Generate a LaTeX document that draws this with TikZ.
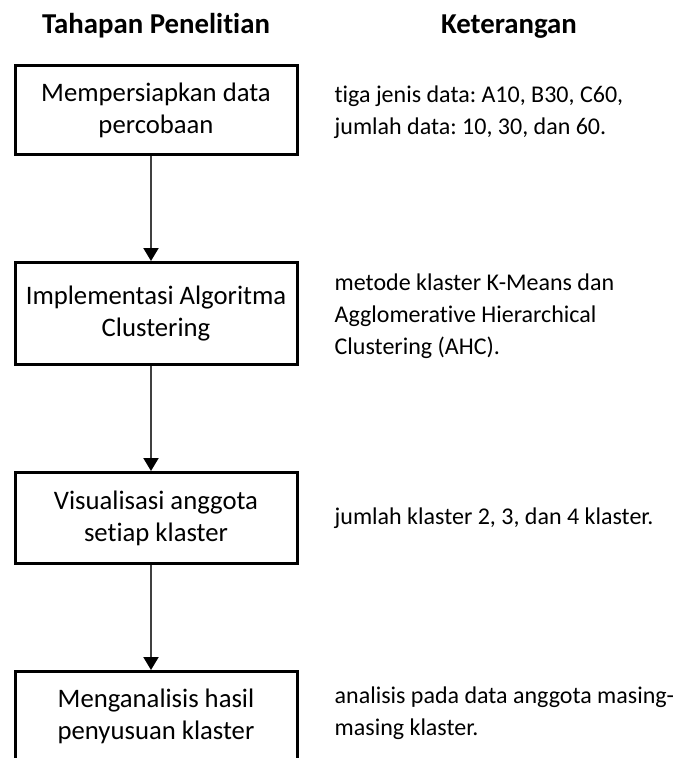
\documentclass[tikz,border=0pt]{standalone}
\usepackage{fontspec}
\setmainfont{Carlito}[RawFeature=-liga]
\usepackage{tikz}
\usetikzlibrary{arrows.meta, positioning}
\frenchspacing

\begin{document}
\begin{tikzpicture}[
    x=1pt, y=1pt,
    node distance=105pt,
    title/.style={anchor=base, inner sep=0pt, font=\fontsize{28.8}{32}\selectfont\bfseries},
    stage/.style={draw, line width=3pt, minimum width=282pt, minimum height=89pt,
        inner sep=0pt, align=center, font=\fontsize{26.7}{32}\selectfont},
    note/.style={inner sep=0pt, align=left, font=\fontsize{24}{32}\selectfont},
    flow/.style={draw=black!75, line width=2pt, -{Triangle[length=13pt, width=15pt, color=black]}}
]
    \useasboundingbox (0,0) rectangle (680,-758);

    \node[title] (t_stage) at (156,-33) {Tahapan Penelitian};
    \node[title] (t_note) at (509,-33) {Keterangan};

    \node[stage] (b1) at (156,-110) {Mempersiapkan data\\percobaan};
    \node[stage, below=of b1, minimum height=102pt] (b2) {Implementasi Algoritma\\Clustering};
    \node[stage, below=of b2, minimum height=91pt] (b3) {Visualisasi anggota\\setiap klaster};
    \node[stage, below=of b3, minimum height=90pt] (b4) {Menganalisis hasil\\penyusuan klaster};

    \coordinate (ax) at (151,0);
    \draw[flow] (b1.south -| ax) -- (b2.north -| ax);
    \draw[flow] (b2.south -| ax) -- (b3.north -| ax);
    \draw[flow] (b3.south -| ax) -- (b4.north -| ax);

    \node[note, right=36pt of b1, yshift=-2pt] (n1) {tiga jenis data: A10, B30, C60,\\jumlah data: 10, 30, dan 60.};
    \node[note, right=36pt of b2, yshift=-3pt] (n2) {metode klaster K-Means dan\\Agglomerative Hierarchical\\Clustering (AHC).};
    \node[note, right=36pt of b3] (n3) {jumlah klaster 2, 3, dan 4 klaster.};
    \node[note, right=36pt of b4, yshift=3pt] (n4) {analisis pada data anggota masing-\\masing klaster.};
\end{tikzpicture}
\end{document}
